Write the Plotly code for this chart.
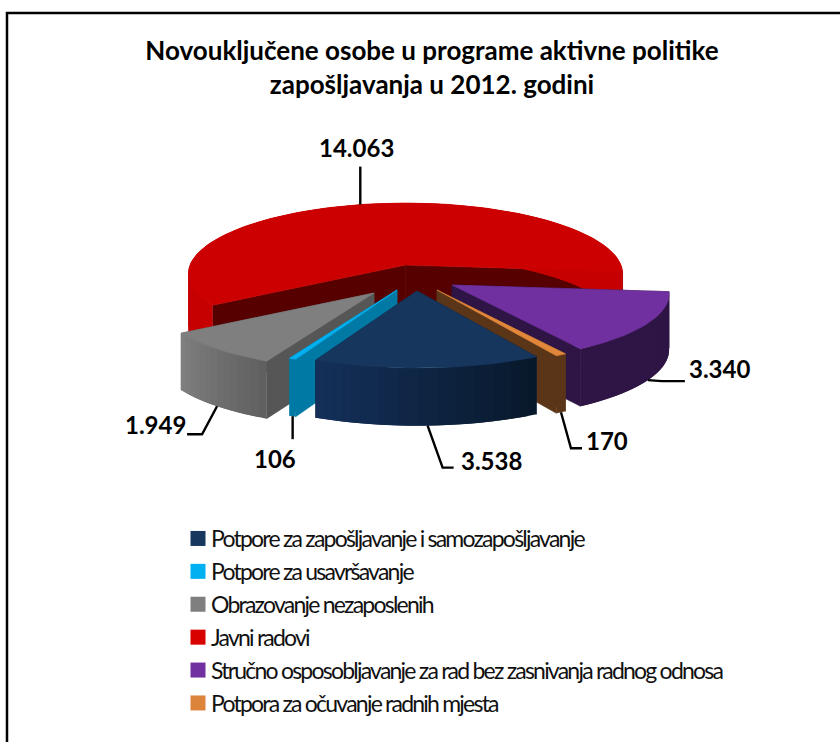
import math
import plotly.graph_objects as go

# ---- data (clockwise order, starting at the front-right of the pie)
categories = [
    "Potpore za zapošljavanje i samozapošljavanje",
    "Potpore za usavršavanje",
    "Obrazovanje nezaposlenih",
    "Javni radovi",
    "Stručno osposobljavanje za rad bez zasnivanja radnog odnosa",
    "Potpora za očuvanje radnih mjesta",
]
values = [3538, 106, 1949, 14063, 3340, 170]
title_lines = ["Novouključene osobe u programe aktivne politike",
               "zapošljavanja u 2012. godini"]

# ---- style: colours
top_col = ["#17365d", "#00b0f0", "#7f7f7f", "#cc0000", "#7030a0", "#e0873c"]
legend_col = ["#17375e", "#00b0f0", "#7f7f7f", "#d90000", "#7030a0", "#dd843c"]
radial_col = ["#0f2340", "#007aa5", "#565656", "#560000", "#2e1545", "#5a3517"]
wall_a = ["#08182a", "#007aa5", "#5f5f5f", "#c60000", "#2e1545", "#5a3517"]  # at slice start
wall_b = ["#14305a", "#007aa5", "#808080", "#c60000", "#2e1545", "#5a3517"]  # at slice end
bands = [24, 1, 14, 110, 26, 1]
draw_order = [3, 4, 2, 5, 1, 0]

# ---- style: 3D projection (pixels on the hidden axes)
start_angle = 150.0
apex_x = [417, 397, 374, 405.5, 452, 437]
apex_y = [291, 290, 293, 265, 285, 290]
RX, RY, KX, KY, DEPTH, KD = 215.5, 69.5, 0.125, 0.108, 56.0, 0.03
# leader-line bends relative to the anchor on the slice edge, then label centres
leader_bends = [[(15, 42), (26, 42)], [(0, 23)], [(-15, 28), (-30, 28)],
                [(0, -38)], [(14, 1), (37, 1)], [(10, 36), (21, 36)]]
label_xy = [(491, 460), (275, 458), (155, 424), (356, 147), (719, 368), (607, 440)]


def proj(i, deg, r=1.0, down=False):
    s, c = math.sin(math.radians(deg)), math.cos(math.radians(deg))
    w = -c * r
    x = apex_x[i] + RX * s * r * (1 + KX * w)
    y = apex_y[i] + RY * w * (1 + KY * w)
    if down:
        y += DEPTH * (1 + KD * w)
    return x, y


def mix(a, b, t):
    ca = [int(a[k:k + 2], 16) for k in (1, 3, 5)]
    cb = [int(b[k:k + 2], 16) for k in (1, 3, 5)]
    return "#%02x%02x%02x" % tuple(round(p + (q - p) * t) for p, q in zip(ca, cb))


def poly(pts, color, width=0.6):
    return go.Scatter(
        x=[p[0] for p in pts] + [pts[0][0]], y=[p[1] for p in pts] + [pts[0][1]],
        mode="lines", fill="toself", fillcolor=color,
        line=dict(color=color, width=width), hoverinfo="skip", showlegend=False,
    )


def frange(a, b, n):
    return [a + (b - a) * k / n for k in range(n + 1)]


total = sum(values)
spans, cur = [], start_angle
for v in values:
    d = 360.0 * v / total
    spans.append((cur, cur + d))
    cur += d

fig = go.Figure()

for i in draw_order:
    a0, a1 = spans[i]
    for ang in (a0, a1):
        pts = [proj(i, ang, 0), proj(i, ang), proj(i, ang, 1, True), proj(i, ang, 0, True)]
        fig.add_trace(poly(pts, radial_col[i]))
    n = bands[i]
    edges = frange(a0, a1, n)
    for k in range(n):
        # each band overlaps the next one, so that no light seam appears between them
        hi = edges[min(k + 2, n)]
        arc = frange(edges[k], hi, max(2, int((hi - edges[k]) / 2)))
        pts = [proj(i, a) for a in arc] + [proj(i, a, 1, True) for a in reversed(arc)]
        fig.add_trace(poly(pts, mix(wall_a[i], wall_b[i], (k + 0.5) / n), 0))
    arc = frange(a0, a1, max(2, int((a1 - a0) / 2)))
    fig.add_trace(poly([proj(i, 0, 0)] + [proj(i, a) for a in arc], top_col[i]))

# leader lines and value labels
annotations = []
for i, v in enumerate(values):
    mid = sum(spans[i]) / 2
    ax, ay = proj(i, mid, 1, categories[i] != "Javni radovi")
    xs = [ax] + [ax + dx for dx, dy in leader_bends[i]]
    ys = [ay] + [ay + dy for dx, dy in leader_bends[i]]
    fig.add_trace(go.Scatter(x=xs, y=ys, mode="lines", line=dict(color="black", width=2.4),
                             hoverinfo="skip", showlegend=False))
    annotations.append(dict(
        x=label_xy[i][0], y=label_xy[i][1], xref="x", yref="y", showarrow=False,
        text=f"{v:,}".replace(",", "."), xanchor="center", yanchor="middle",
        font=dict(family="Lato", size=24, color="black", weight="bold"),
    ))

# legend
for name, col in zip(categories, legend_col):
    fig.add_trace(go.Scatter(x=[None], y=[None], mode="markers", name=name,
                             marker=dict(symbol="square", size=15, color=col)))

fig.update_layout(
    width=840, height=742, margin=dict(l=0, r=0, t=0, b=0),
    paper_bgcolor="white", plot_bgcolor="white",
    xaxis=dict(range=[0, 840], visible=False, fixedrange=True),
    yaxis=dict(range=[742, 0], visible=False, fixedrange=True),
    title=dict(text="<br>".join(title_lines), x=432 / 840, xanchor="center",
               y=1 - 60 / 742, yanchor="top",
               font=dict(family="Lato", size=26, color="black", weight="bold")),
    legend=dict(x=178 / 840, xanchor="left", y=1 - 517 / 742, yanchor="top",
                bgcolor="rgba(0,0,0,0)", traceorder="normal", itemclick=False, itemdoubleclick=False,
                font=dict(family="Lato", size=23, color="#111111")),
    shapes=[dict(type="rect", xref="x", yref="y", x0=7, y0=13, x1=860, y1=770,
                 line=dict(color="black", width=2.5), fillcolor="rgba(0,0,0,0)", layer="below")],
    annotations=annotations,
    showlegend=True,
)

post = """
document.body.style.margin = '0';
document.querySelectorAll('text.legendtext').forEach(function (t) {
  t.style.fontSize = '23px';
  t.style.letterSpacing = '-1.78px';
  t.setAttribute('x', parseFloat(t.getAttribute('x')) - 7);
});
"""
fig.write_html("out.html", post_script=post, config={"displayModeBar": False})
